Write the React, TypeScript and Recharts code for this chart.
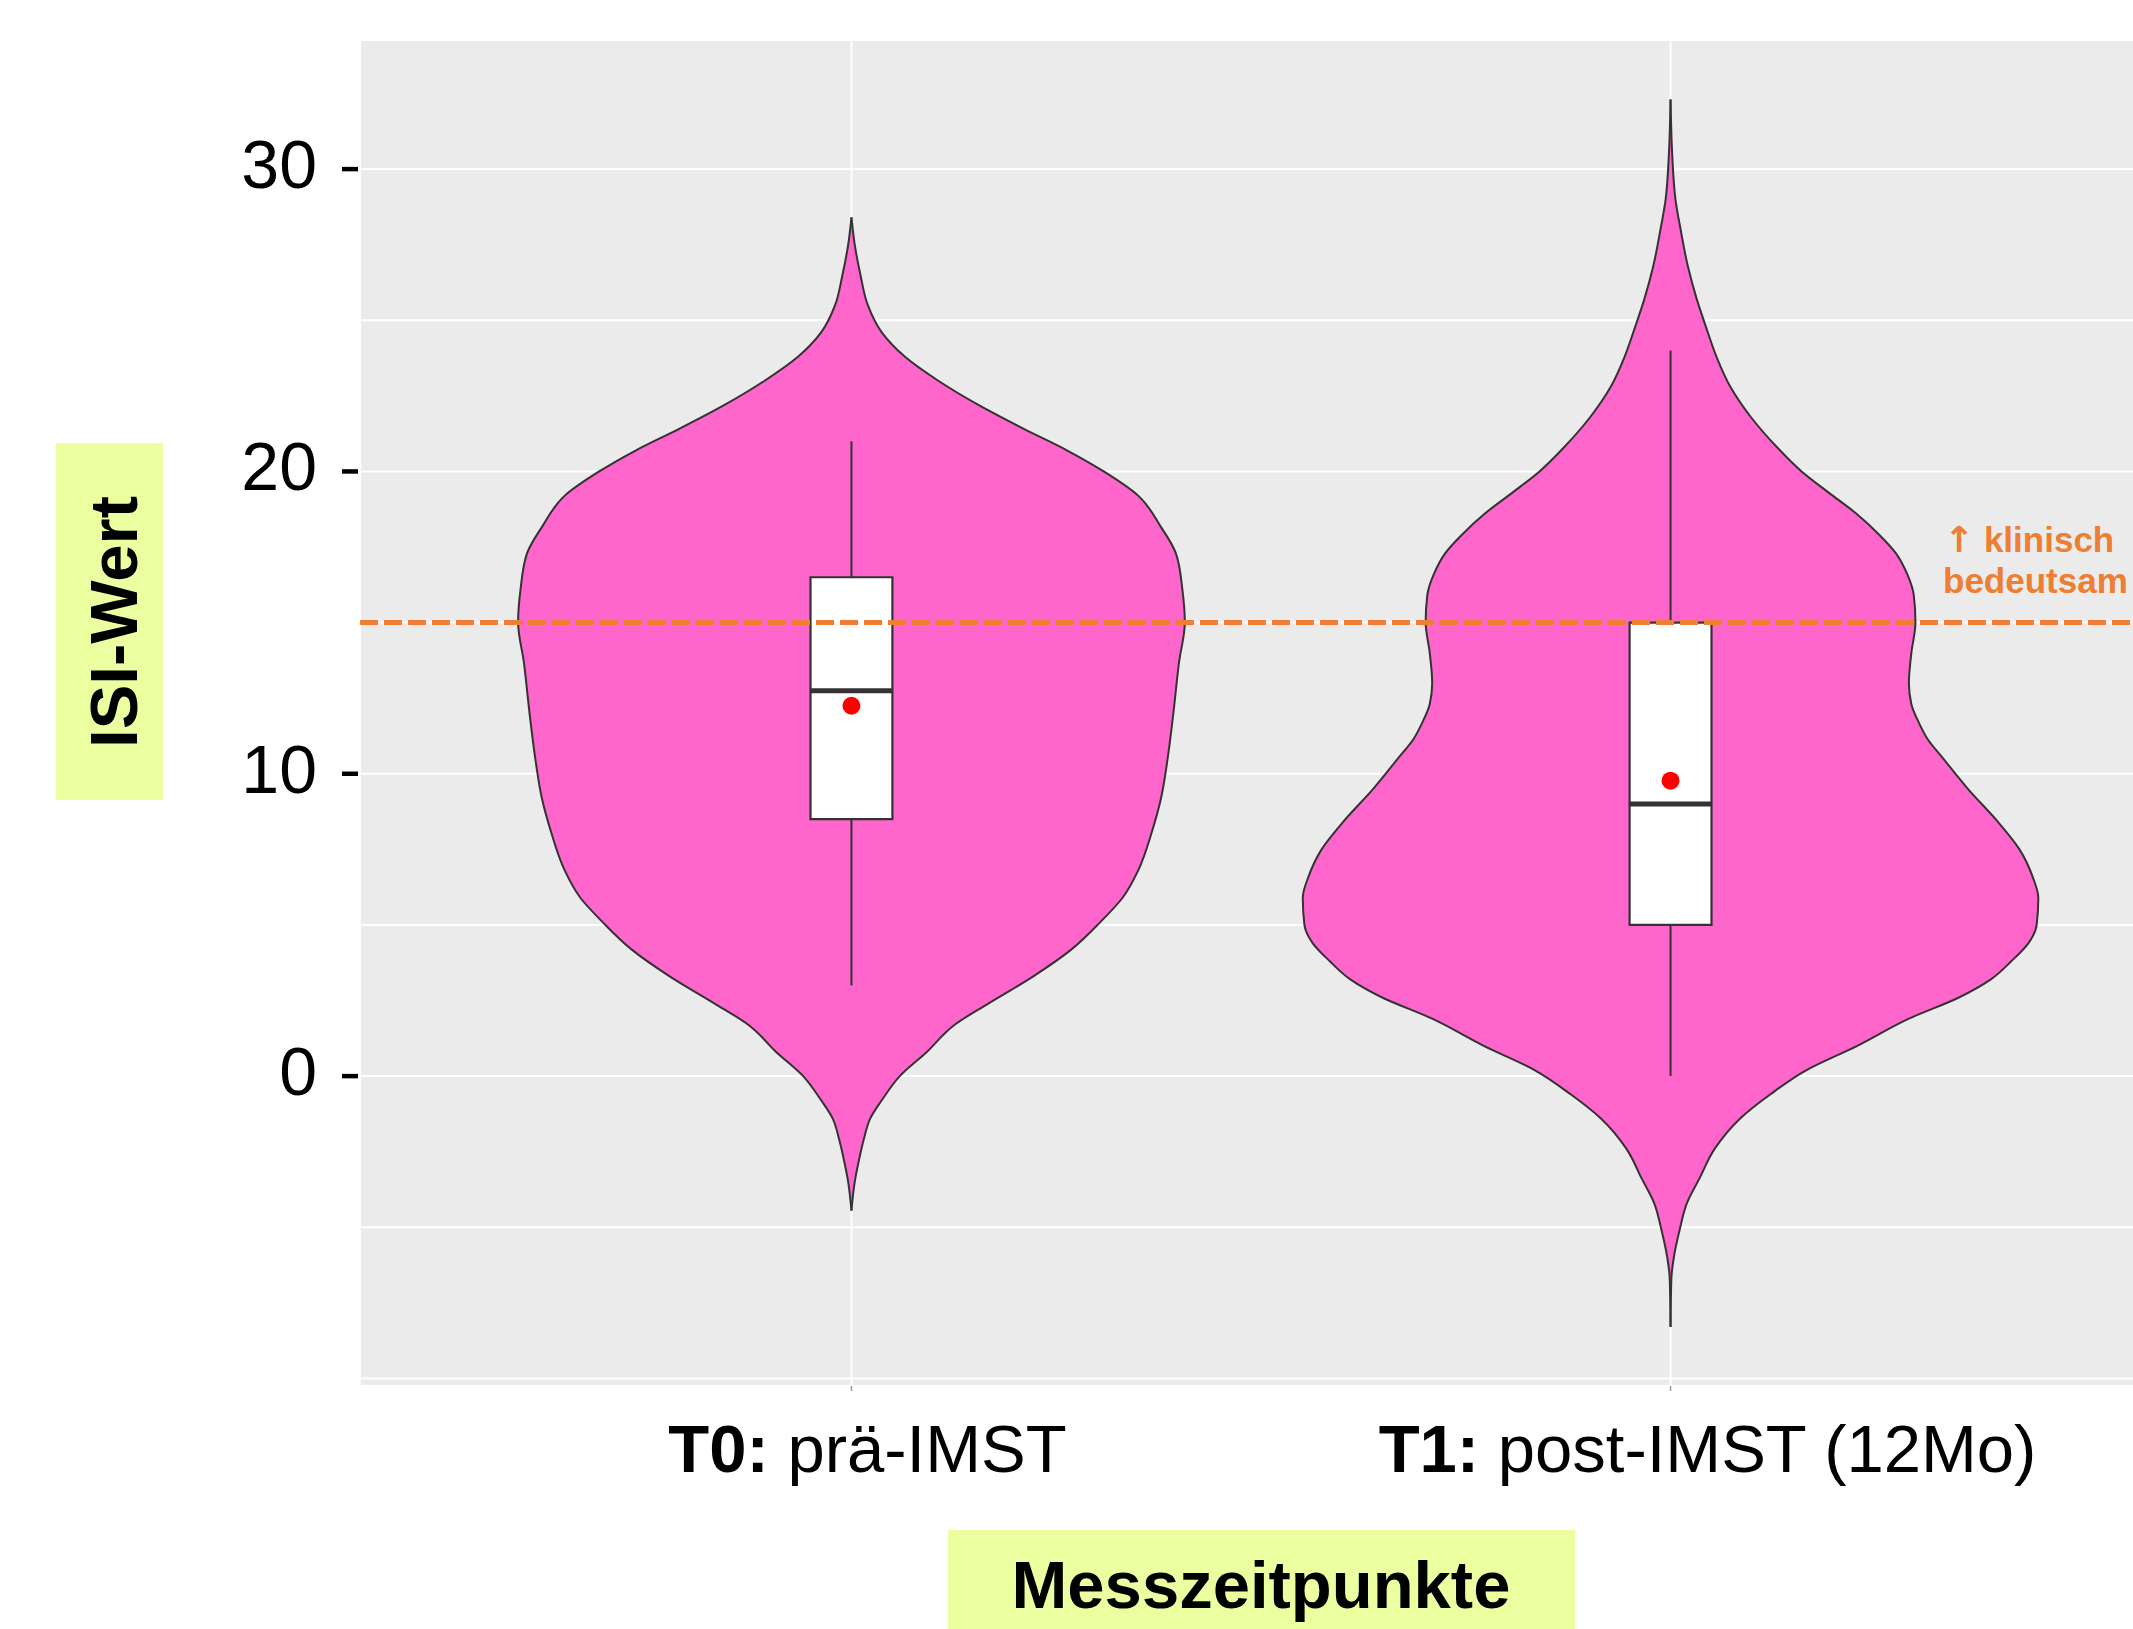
import React from "react";
import {
  Area,
  CartesianGrid,
  ComposedChart,
  ReferenceArea,
  ReferenceLine,
  Scatter,
  XAxis,
  YAxis,
} from "recharts";

// category positions on the x axis and their tick labels
const categories = [1, 2];
const tickBold = ["T0:", "T1:"];
const tickRest = [" prä-IMST", " post-IMST (12Mo)"];
const tickShift = [16, 37];

// violin outlines: ISI levels and half-widths (in category units)
const t0Levels = [
  28.4, 27.5, 26.5, 25.5, 24.6, 23.8, 23.0, 22.2, 21.4, 20.7, 20.0, 19.2, 18.2,
  17.3, 16.1, 15.0, 13.7, 12.0, 10.5, 9.2, 8.1, 6.8, 5.9, 5.1, 4.2, 3.3, 2.4,
  1.7, 0.8, 0.0, -0.8, -1.4, -2.1, -2.8, -3.5, -4.45,
];
const t0HalfWidth = [
  0, 0.004, 0.011, 0.02, 0.037, 0.065, 0.106, 0.155, 0.211, 0.263, 0.308, 0.35,
  0.377, 0.396, 0.404, 0.407, 0.4, 0.393, 0.386, 0.378, 0.367, 0.35, 0.331,
  0.304, 0.269, 0.222, 0.167, 0.126, 0.092, 0.059, 0.037, 0.023, 0.015, 0.009,
  0.004, 0,
];
const t1Levels = [
  32.3, 30.5, 29.0, 27.9, 26.8, 25.7, 24.8, 23.8, 22.8, 21.8, 20.8, 20.0, 19.3,
  18.6, 17.9, 17.3, 16.6, 15.9, 15.0, 14.0, 13.0, 12.3, 11.7, 11.1, 10.6, 9.5,
  8.4, 7.5, 6.6, 5.9, 5.0, 4.4, 3.8, 3.2, 2.6, 1.9, 1.0, 0.2, -0.6, -1.4, -2.4,
  -3.4, -4.2, -5.1, -6.0, -6.7, -8.3,
];
const t1HalfWidth = [
  0, 0.002, 0.006, 0.013, 0.021, 0.032, 0.043, 0.056, 0.073, 0.098, 0.13,
  0.16, 0.193, 0.227, 0.255, 0.275, 0.289, 0.297, 0.299, 0.294, 0.291, 0.294,
  0.303, 0.315, 0.33, 0.363, 0.4, 0.426, 0.442, 0.449, 0.447, 0.437, 0.416,
  0.391, 0.352, 0.291, 0.228, 0.166, 0.122, 0.085, 0.054, 0.035, 0.02, 0.011,
  0.004, 0.001, 0,
];

// box plot stats per group
const boxQ1 = [8.5, 5];
const boxMedian = [12.75, 9];
const boxQ3 = [16.5, 15];
const whiskerLow = [3, 0];
const whiskerHigh = [21, 24];
const groupMean = [12.25, 9.77];
const threshold = 15;

const yTicks = [-10, -5, 0, 5, 10, 15, 20, 25, 30];
const yLabelled = [0, 10, 20, 30];

const BOX_HALF = 0.05;
const PINK = "#FF66CC";
const ORANGE = "#EE7E32";
const TITLE_BG = "#EBFFA1";
const OUTLINE = "#333333";

const violin = (levels: number[], widths: number[], center: number) =>
  levels.map((v, i) => ({ v, range: [center - widths[i], center + widths[i]] }));

const violinT0 = violin(t0Levels, t0HalfWidth, categories[0]);
const violinT1 = violin(t1Levels, t1HalfWidth, categories[1]);
const means = categories.map((x, i) => ({ x, v: groupMean[i] }));

function YTick({ x, y, payload }: any) {
  if (!yLabelled.includes(payload.value)) return null;
  return (
    <g>
      <line x1={x - 18} x2={x - 2} y1={y} y2={y} stroke="#000" strokeWidth={4.5} />
      <text x={x - 43} y={y + 19} textAnchor="end" fontSize={68} fill="#000">
        {payload.value}
      </text>
    </g>
  );
}

function XTick({ x, y, payload }: any) {
  const i = categories.indexOf(payload.value);
  if (i < 0) return null;
  return (
    <g>
      <line x1={x} x2={x} y1={y} y2={y + 5} stroke="#999" strokeWidth={1.5} />
      <text
        x={x + tickShift[i]}
        y={y + 86}
        textAnchor="middle"
        fontSize={67}
        fill="#000"
        style={{ whiteSpace: "pre" }}
      >
        <tspan fontWeight="bold">{tickBold[i]}</tspan>
        <tspan>{tickRest[i]}</tspan>
      </text>
    </g>
  );
}

function YTitle({ viewBox }: any) {
  const top = (viewBox?.y ?? 40) + 403;
  const cy = top + 179;
  return (
    <g>
      <rect x={56} y={top} width={107} height={357} fill={TITLE_BG} />
      <text
        x={137}
        y={cy}
        transform={`rotate(-90 137 ${cy})`}
        textAnchor="middle"
        fontSize={67}
        fontWeight="bold"
        fill="#000"
      >
        ISI-Wert
      </text>
    </g>
  );
}

function XTitle({ viewBox }: any) {
  const cx = viewBox.x + viewBox.width / 2;
  return (
    <g>
      <rect x={cx - 313} y={viewBox.y + 144} width={627} height={110} fill={TITLE_BG} />
      <text x={cx} y={viewBox.y + 222} textAnchor="middle" fontSize={67} fontWeight="bold" fill="#000">
        Messzeitpunkte
      </text>
    </g>
  );
}

function ThresholdNote({ viewBox }: any) {
  const x = viewBox.x + viewBox.width - 219;
  const y = viewBox.y;
  return (
    <text fill={ORANGE} fontSize={35} fontWeight="bold">
      <tspan x={x + 1} y={y - 71} fontFamily="DejaVu Sans" fontSize={36}>↑</tspan>
      <tspan> klinisch</tspan>
      <tspan x={x} y={y - 30}>bedeutsam</tspan>
    </text>
  );
}

export default function App() {
  return (
    <div
      style={{
        position: "absolute",
        left: 0,
        top: 0,
        width: 2133,
        height: 1629,
        overflow: "hidden",
        background: "#fff",
        fontFamily: '"Liberation Sans", Arial, sans-serif',
      }}
    >
      <ComposedChart
        layout="vertical"
        width={2162}
        height={1629}
        margin={{ top: 40, right: 0, bottom: 0, left: 0 }}
      >
        <CartesianGrid fill="#EBEBEB" stroke="#FFFFFF" strokeWidth={2} />
        <XAxis
          type="number"
          dataKey="x"
          domain={[0.4, 2.6]}
          ticks={categories}
          allowDataOverflow
          height={243}
          axisLine={false}
          tickLine={false}
          tickSize={0}
          tickMargin={0}
          tick={<XTick />}
          label={(props: any) => <XTitle {...props} />}
        />
        <YAxis
          type="number"
          dataKey="v"
          domain={[-10.25, 34.27]}
          ticks={yTicks}
          reversed
          allowDataOverflow
          width={360}
          axisLine={false}
          tickLine={false}
          tickSize={0}
          tickMargin={0}
          tick={<YTick />}
          label={(props: any) => <YTitle {...props} />}
        />
        {[violinT0, violinT1].map((d, i) => (
          <Area
            key={`violin-${i}`}
            data={d}
            dataKey="range"
            type="monotone"
            fill={PINK}
            fillOpacity={1}
            stroke={OUTLINE}
            strokeWidth={2}
            dot={false}
            activeDot={false}
            isAnimationActive={false}
          />
        ))}
        {categories.map((c, i) => (
          <ReferenceLine
            key={`wl-${i}`}
            segment={[{ x: c, y: whiskerLow[i] }, { x: c, y: whiskerHigh[i] }]}
            stroke={OUTLINE}
            strokeWidth={2}
            zIndex={250}
          />
        ))}
        {categories.map((c, i) => (
          <ReferenceArea
            key={`box-${i}`}
            x1={c - BOX_HALF}
            x2={c + BOX_HALF}
            y1={boxQ1[i]}
            y2={boxQ3[i]}
            fill="#FFFFFF"
            fillOpacity={1}
            stroke={OUTLINE}
            strokeWidth={2.2}
            zIndex={300}
          />
        ))}
        {categories.map((c, i) => (
          <ReferenceLine
            key={`med-${i}`}
            segment={[{ x: c - BOX_HALF, y: boxMedian[i] }, { x: c + BOX_HALF, y: boxMedian[i] }]}
            stroke={OUTLINE}
            strokeWidth={5}
            zIndex={350}
          />
        ))}
        <Scatter
          data={means}
          dataKey="x"
          fill="#FF0000"
          isAnimationActive={false}
          shape={(p: any) => <circle cx={p.cx} cy={p.cy} r={9} fill="#FF0000" />}
        />
        <ReferenceLine
          y={threshold}
          stroke={ORANGE}
          strokeWidth={5}
          strokeDasharray="18 6"
          zIndex={700}
          label={(props: any) => <ThresholdNote {...props} />}
        />
      </ComposedChart>
    </div>
  );
}
